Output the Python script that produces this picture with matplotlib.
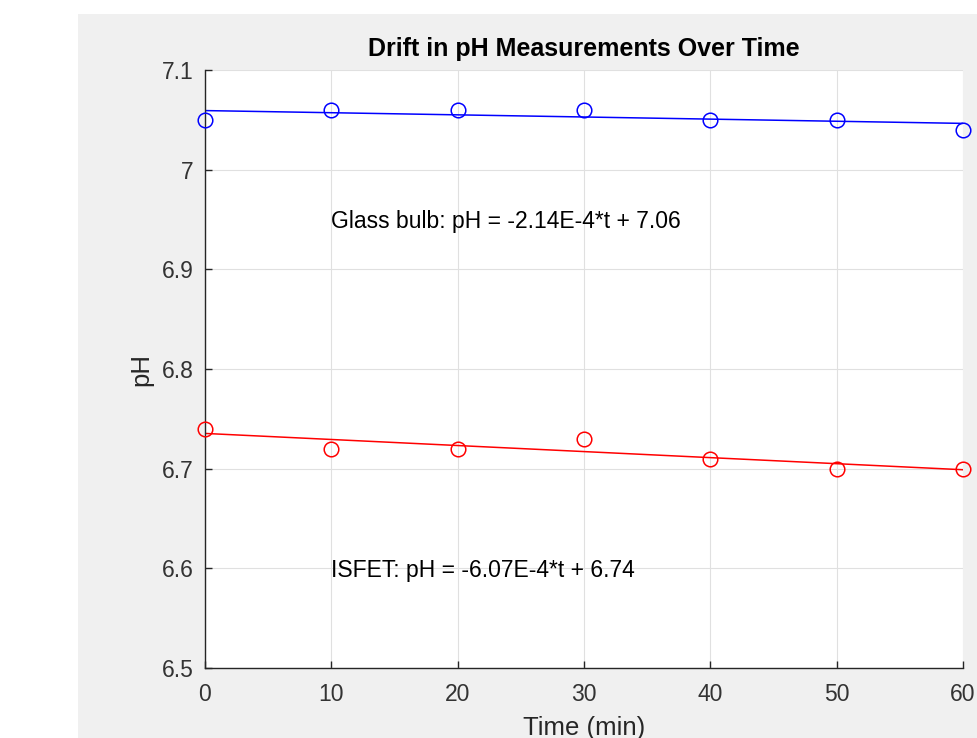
import numpy as np
import matplotlib
matplotlib.use('Agg')
import matplotlib.pyplot as plt
from matplotlib.patches import Rectangle

plt.rcParams['font.family'] = ['Liberation Sans', 'DejaVu Sans']

t = [0, 10, 20, 30, 40, 50, 60]
glass_ph = [7.05, 7.06, 7.06, 7.06, 7.05, 7.05, 7.04]
isfet_ph = [6.74, 6.72, 6.72, 6.73, 6.71, 6.70, 6.70]
glass_label = 'Glass bulb: pH = -2.14E-4*t + 7.06'
isfet_label = 'ISFET: pH = -6.07E-4*t + 6.74'
xticks = [0, 10, 20, 30, 40, 50, 60]
yticks = [6.5, 6.6, 6.7, 6.8, 6.9, 7.0, 7.1]
ytick_labels = ['6.5', '6.6', '6.7', '6.8', '6.9', '7', '7.1']

W, H = 978, 738
fig = plt.figure(figsize=(W / 100, H / 100), dpi=100, facecolor='white')
# matlab figure grey panel (behind the axes)
fig.patches.append(Rectangle((78 / W, 0), 1 - 78 / W, 1 - 14 / H,
                             transform=fig.transFigure, facecolor='#f0f0f0',
                             edgecolor='none', zorder=-10))

ax = fig.add_axes([205 / W, 1 - 668 / H, (963 - 205) / W, (668 - 70) / H])
ax.set_facecolor('white')

tt = np.array(t, dtype=float)
for y, c in [(glass_ph, 'blue'), (isfet_ph, 'red')]:
    p = np.polyfit(tt, y, 1)
    ax.plot(tt, y, 'o', mfc='none', mec=c, ms=10.5, mew=1.1, clip_on=False, zorder=3)
    ax.plot([tt[0], tt[-1]], np.polyval(p, [tt[0], tt[-1]]), color=c, lw=1.1, zorder=2)

ax.text(10, 6.95, glass_label, fontsize=16.5, va='center_baseline', ha='left', color='black')
ax.text(10, 6.60, isfet_label, fontsize=16.5, va='center_baseline', ha='left', color='black')

ax.set_xlim(0, 60)
ax.set_ylim(6.5, 7.1)
ax.set_xticks(xticks)
ax.set_yticks(yticks)
ax.set_yticklabels(ytick_labels)
ax.grid(True, color='#e0e0e0', lw=0.8)
ax.set_axisbelow(True)
ax.tick_params(direction='in', length=5, width=1, colors='#262626', labelsize=16.5)
ax.tick_params(axis='y', pad=8, labelcolor='#333333')
ax.tick_params(axis='x', pad=11, labelcolor='#333333')
for s in ['top', 'right']:
    ax.spines[s].set_visible(False)
for s in ['left', 'bottom']:
    ax.spines[s].set_color('#262626')
    ax.spines[s].set_linewidth(1.0)

ax.set_title('Drift in pH Measurements Over Time', fontsize=18, fontweight='bold', pad=10)
ax.set_ylabel('pH', fontsize=18.5, color='#262626', labelpad=6)
ax.set_xlabel('Time (min)', fontsize=18.5, color='#262626', labelpad=7)

fig.savefig('out.png', dpi=100, facecolor=fig.get_facecolor())
